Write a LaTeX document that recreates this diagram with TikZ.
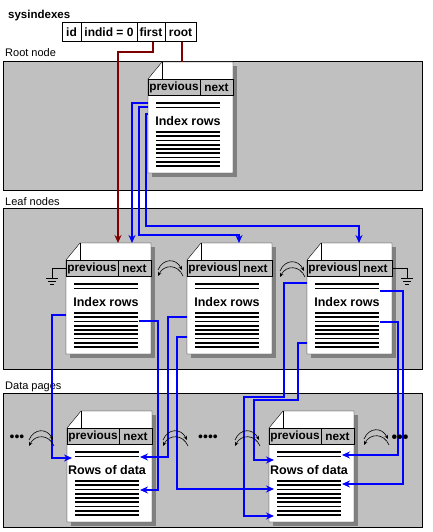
\documentclass[tikz,border=0pt]{standalone}
\usepackage{fontspec}
\setmainfont{Liberation Sans}
\usepackage{xcolor}
\usetikzlibrary{positioning, arrows.meta}

\definecolor{bandgray}{RGB}{192,192,192}
\definecolor{shadegray}{RGB}{128,128,128}
\definecolor{ptrred}{RGB}{128,0,0}
\definecolor{ptrblue}{RGB}{0,0,255}

\tikzset{
  band/.style={draw=black, fill=bandgray, line width=1pt},
  bandlabel/.style={anchor=base west, inner sep=0pt, font=\fontsize{11}{12}\selectfont},
  cell/.style={draw=black, line width=1pt, minimum height=19pt, inner sep=0pt, outer sep=0pt, font=\bfseries\fontsize{12}{13}\selectfont},
  pagebox/.style={anchor=north west, minimum width=85pt, minimum height=111pt, inner sep=0pt, outer sep=0pt},
  hdr/.style={inner sep=0pt, font=\bfseries\fontsize{11.8}{12}\selectfont},
  rowtxt/.style={inner sep=0pt, font=\bfseries\fontsize{12.5}{13}\selectfont},
  rowline/.style={line width=1.9pt},
  redptr/.style={draw=ptrred, line width=2pt},
  blueptr/.style={draw=ptrblue, line width=2pt, -{Stealth[length=8pt,width=7pt]}},
  turnarc/.style={line width=0.6pt, -{Stealth[length=4pt,width=3.5pt]}},
  gndline/.style={line width=1pt},
  dotrow/.style={inner sep=0pt, font=\fontsize{14}{14}\selectfont}
}

% one page: name, left, top, text
\newcommand\docpage[4]{%
  \fill[shadegray] (#2+85,#3+4) rectangle (#2+89,#3+115);
  \fill[shadegray] (#2+4,#3+111) rectangle (#2+89,#3+115);
  \draw[fill=white] (#2,#3+17) -- (#2+14,#3) -- (#2+85,#3) -- (#2+85,#3+111) -- (#2,#3+111) -- cycle;
  \draw (#2+14,#3) -- (#2+14,#3+17);
  \draw[fill=bandgray] (#2,#3+17) rectangle (#2+85,#3+33);
  \draw (#2+52,#3+17) -- (#2+52,#3+33);
  \node[pagebox] (#1) at (#2,#3) {};
  \coordinate (#1-div) at (#2+52,#3);
  \coordinate (#1-in) at (#2+5,#3);
  \coordinate (#1-out) at (#2+73,#3);
  \node[hdr] (#1-prev) at (#2+26,#3+25.5) {previous};
  \node[hdr] (#1-next) at (#2+68.5,#3+25.5) {next};
  \node[rowtxt] (#1-txt) at (#2+40,#3+59) {#4};
  \foreach \ry in {41,45.5,70,74.25,78.5,82.75,87,91.25,95.5,99.75,104}
    \draw[rowline] (#2+8,#3+\ry) -- (#2+72,#3+\ry);
}

% double arcs between neighbour pages
\newcommand\turnarcs[2]{%
  \draw[turnarc] (#1+1,#2+9) .. controls (#1+6,#2-3) and (#1+19,#2-3) .. (#1+25,#2+9);
  \draw[turnarc] (#1+26,#2+15) .. controls (#1+21,#2+3) and (#1+7,#2+3) .. (#1+1,#2+15);
}

\begin{document}
\begin{tikzpicture}[x=1pt, y=-1pt]
    \useasboundingbox (0,0) rectangle (432,532);

    \draw[band] (3,62) rectangle (422,190);
    \draw[band] (3,208) rectangle (422,369);
    \draw[band] (3,393) rectangle (422,527);

    \node[bandlabel, font=\bfseries\fontsize{11.5}{12}\selectfont] (title) at (8,18.5) {sysindexes};
    \node[bandlabel] (lblroot) at (5,57) {Root node};
    \node[bandlabel] (lblleaf) at (5,205) {Leaf nodes};
    \node[bandlabel] (lbldata) at (5,389) {Data pages};

    \node[cell, minimum width=19pt] (id) at (71.5,32.5) {id};
    \node[cell, minimum width=56pt, right=0pt of id] (indid) {indid = 0};
    \node[cell, minimum width=28pt, right=0pt of indid] (first) {first};
    \node[cell, minimum width=31pt, right=0pt of first] (root) {root};

    \docpage{rootpg}{148}{62}{Index rows}
    \docpage{leafA}{66}{243}{Index rows}
    \docpage{leafB}{187}{243}{Index rows}
    \docpage{leafC}{307}{243}{Index rows}
    \docpage{dataA}{67}{411}{Rows of data}
    \docpage{dataB}{269}{411}{Rows of data}

    % sysindexes pointers
    \draw[redptr, -{Stealth[length=8pt,width=7pt]}] ([xshift=1.5pt]first.south) -- ++(0,10) -| (leafA-div);
    \draw[redptr] ([xshift=1.5pt]root.south) -- ([xshift=1.5pt]root.south |- rootpg.north);

    % root to leaves
    \draw[blueptr] (rootpg.west |- 0,103) -| (132,0 |- leafA.north);
    \draw[blueptr] (rootpg.west |- 0,107) -| (139,235) -| (leafB-div);
    \draw[blueptr] (rootpg.west |- 0,114) -| (146,226) -| (leafC-div);

    % leaves to data pages
    \draw[blueptr] (leafA.west |- 0,315) -| (52,458) -- (dataA-in |- 0,458);
    \draw[blueptr] (leafA-out |- 0,321) -| (158,490) -- (dataA-out |- 0,490);
    \draw[blueptr] (leafB.west |- 0,317) -| (168,457) -- (dataA-out |- 0,457);
    \draw[blueptr] (leafB.west |- 0,337) -| (177,489) -- (dataB-in |- 0,489);
    \draw[blueptr] (leafC.west |- 0,283) -| (284,397) -| (244,516) -- (dataB-in |- 0,516);
    \draw[blueptr] (leafC.west |- 0,343) -| (298,400) -| (254,460) -- (dataB-in |- 0,460);
    \draw[blueptr] (leafC-out |- 0,291) -| (403,484) -- (dataB-out |- 0,484);
    \draw[blueptr] (leafC-out |- 0,322) -| (398,455) -- (dataB-out |- 0,455);

    % ends of the chain
    \coordinate (gndA) at (52,278);
    \coordinate (gndC) at (407,278);
    \draw[gndline] (leafA.west |- 0,268) -| (gndA);
    \draw[gndline] (leafC.east |- 0,268) -| (gndC);
    \draw[gndline] (46,278) -- (58,278) (48,281) -- (56,281) (50,284) -- (54,284);
    \draw[gndline] (401,278) -- (413,278) (403,281) -- (411,281) (405,284) -- (409,284);

    \turnarcs{157}{261}
    \turnarcs{279}{262}
    \turnarcs{28}{431}
    \turnarcs{162}{431}
    \turnarcs{234}{431}
    \turnarcs{363}{430}

    \node[dotrow] (dotsL) at (17,438) {•••};
    \node[dotrow] (dotsM) at (208,438) {••••};
    \node[dotrow, font=\bfseries\fontsize{16}{16}\selectfont] (dotsR) at (400,439) {•••};
\end{tikzpicture}
\end{document}
